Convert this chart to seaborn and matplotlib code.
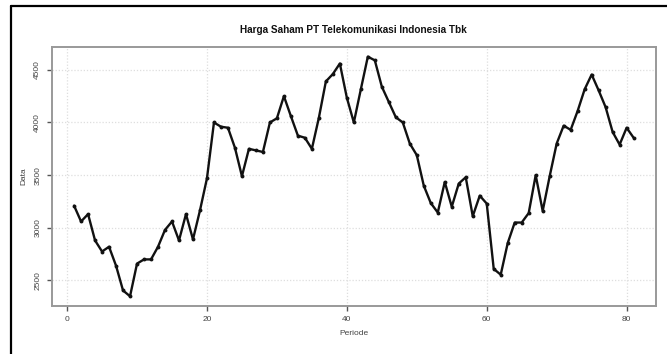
import matplotlib
matplotlib.use("Agg")
import matplotlib.pyplot as plt
import seaborn as sns
import pandas as pd
from matplotlib.lines import Line2D

# ---------------------------------------------------------------------------
# Data
# ---------------------------------------------------------------------------
periode = list(range(1, 82))
harga = [
    3210, 3060, 3130, 2880, 2775, 2820, 2640, 2405, 2350, 2660,
    2700, 2700, 2820, 2980, 3060, 2880, 3130, 2890, 3165, 3470,
    4000, 3960, 3950, 3760, 3490, 3750, 3735, 3720, 4000, 4040,
    4250, 4060, 3875, 3855, 3750, 4045, 4390, 4460, 4560, 4235,
    4000, 4315, 4625, 4590, 4340, 4195, 4050, 4000, 3800, 3690,
    3400, 3235, 3145, 3435, 3200, 3420, 3480, 3110, 3305, 3230,
    2610, 2555, 2855, 3050, 3050, 3140, 3500, 3160, 3490, 3800,
    3970, 3930, 4110, 4315, 4455, 4305, 4145, 3910, 3790, 3950,
    3855,
]
x_ticks = [0, 20, 40, 60, 80]
y_ticks = [2500, 3000, 3500, 4000, 4500]

TITLE = "Harga Saham PT Telekomunikasi Indonesia Tbk"
X_LABEL = "Periode"
Y_LABEL = "Data"

df = pd.DataFrame({"Periode": periode, "Data": harga})

sns.set_theme(style="white")
plt.rcParams["font.family"] = ["Liberation Sans", "DejaVu Sans"]

fig = plt.figure(figsize=(6.67, 3.54), dpi=100)
ax = fig.add_axes([0.0775, 0.136, 0.906, 0.731])

# R-style dotted grid
for xv in x_ticks:
    ax.axvline(xv, color="#dedede", linestyle=(0, (1, 1.5)), linewidth=0.9, zorder=0)
for yv in y_ticks:
    ax.axhline(yv, color="#dedede", linestyle=(0, (1, 1.5)), linewidth=0.9, zorder=0)

sns.lineplot(
    data=df, x="Periode", y="Data", ax=ax,
    color="#111111", linewidth=1.7, marker="o", markersize=2.8,
    markeredgewidth=0, zorder=3,
)

lo, hi = min(periode), max(periode)
pad = (hi - lo) * 0.04
ax.set_xlim(lo - pad, hi + pad)
ylo, yhi = min(harga), max(harga)
ypad = (yhi - ylo) * 0.04
ax.set_ylim(ylo - ypad, yhi + ypad)

ax.set_xticks(x_ticks)
ax.set_yticks(y_ticks)
ax.set_yticklabels([str(v) for v in y_ticks], rotation=90, va="center")
ax.tick_params(axis="both", which="major", labelsize=6, colors="#555555",
               length=3.5, width=1.0, direction="out", pad=4,
               bottom=True, left=True)
for lab in ax.get_xticklabels() + ax.get_yticklabels():
    lab.set_color("#444444")

for spine in ax.spines.values():
    spine.set_color("#999999")
    spine.set_linewidth(1.4)

ax.set_xlabel(X_LABEL, fontsize=6, color="#444444", labelpad=5)
ax.set_ylabel(Y_LABEL, fontsize=6, color="#444444", labelpad=5)
fig.text(0.53, 0.915, TITLE, ha="center", va="center",
         fontsize=7.2, fontweight="bold", color="#111111")

# screenshot frame (left and top edges only)
fig.add_artist(Line2D([11 / 667, 11 / 667], [0, 1 - 6 / 354],
                      transform=fig.transFigure, color="black", linewidth=1.6))
fig.add_artist(Line2D([11 / 667, 1], [1 - 6 / 354, 1 - 6 / 354],
                      transform=fig.transFigure, color="black", linewidth=1.6))

fig.savefig("out.png", dpi=100)
